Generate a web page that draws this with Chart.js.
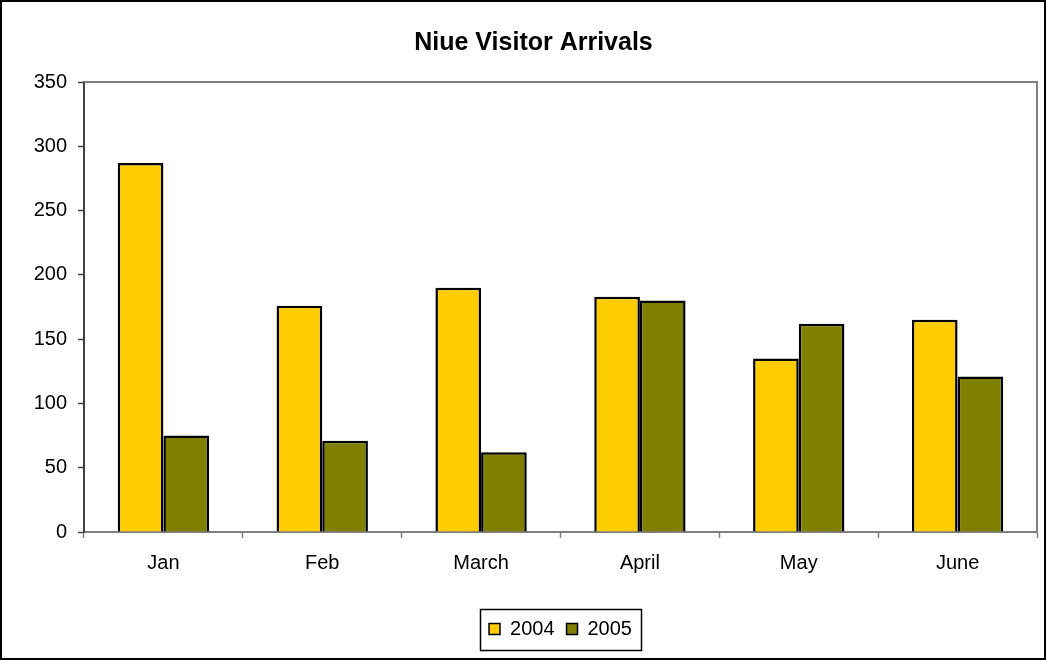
<!DOCTYPE html>
<html>
<head>
<meta charset="utf-8">
<script src="https://cdn.jsdelivr.net/npm/chart.js@4"></script>
<style>
  html, body { margin: 0; padding: 0; background: #fff; }
  #wrap { width: 1047px; height: 660px; }
</style>
</head>
<body>
<div id="wrap"><canvas id="visitors" width="1047" height="660"></canvas></div>
<script>
const months = ['Jan', 'Feb', 'March', 'April', 'May', 'June'];
const arrivals2004 = [287, 176, 190, 183, 135, 165];
const arrivals2005 = [75, 71, 62, 180, 162, 121];
const yTicks = [0, 50, 100, 150, 200, 250, 300, 350];

// outer frame, plot area border and the boxed legend
const frames = {
    id: 'frames',
    beforeDatasetsDraw(chart) {
        const { ctx, chartArea: a } = chart;
        ctx.save();
        ctx.strokeStyle = '#808080';
        ctx.lineWidth = 2;
        ctx.beginPath();
        ctx.moveTo(a.left, a.top);
        ctx.lineTo(a.right, a.top);
        ctx.lineTo(a.right, a.bottom);
        ctx.stroke();
        ctx.restore();
    },
    afterDraw(chart) {
        const ctx = chart.ctx;
        ctx.save();
        ctx.strokeStyle = '#000';
        ctx.lineWidth = 2;
        ctx.strokeRect(1, 1, chart.width - 3, chart.height - 2);

        const boxes = chart.legend.legendHitBoxes;
        if (boxes && boxes.length) {
            let l = Infinity, r = -Infinity, t = Infinity, b = -Infinity;
            boxes.forEach(h => {
                l = Math.min(l, h.left);
                r = Math.max(r, h.left + h.width);
                t = Math.min(t, h.top);
                b = Math.max(b, h.top + h.height);
            });
            ctx.lineWidth = 1.5;
            ctx.strokeRect(Math.round(l - 9) + 0.5, Math.round(t - 10) + 0.5,
                Math.round(r - l + 18), Math.round(b - t + 21));
        }
        ctx.restore();
    }
};

new Chart(document.getElementById('visitors'), {
    type: 'bar',
    data: {
        labels: months,
        datasets: [
            {
                label: '2004',
                data: arrivals2004,
                backgroundColor: '#FFCC00',
                borderColor: '#000',
                borderWidth: 2.5,
                borderSkipped: 'bottom'
            },
            {
                label: '2005',
                data: arrivals2005,
                backgroundColor: '#808000',
                borderColor: '#000',
                borderWidth: 2.5,
                borderSkipped: 'bottom'
            }
        ]
    },
    options: {
        responsive: false,
        animation: false,
        devicePixelRatio: 1,
        categoryPercentage: 0.575,
        barPercentage: 1.0,
        layout: { padding: { left: 30, right: 10, top: 0, bottom: 11 } },
        plugins: {
            title: {
                display: true,
                text: 'Niue Visitor Arrivals',
                color: '#000',
                font: { family: 'Liberation Sans, Arial, sans-serif', size: 25, weight: 'bold' },
                padding: { top: 28, bottom: 24 }
            },
            legend: {
                position: 'bottom',
                fullSize: false,
                labels: {
                    color: '#000',
                    boxWidth: 11,
                    boxHeight: 11,
                    padding: 12,
                    font: { family: 'Liberation Sans, Arial, sans-serif', size: 20 },
                    generateLabels(chart) {
                        return chart.data.datasets.map((ds, i) => ({
                            text: ds.label,
                            fillStyle: ds.backgroundColor,
                            strokeStyle: '#000',
                            lineWidth: 1.5,
                            datasetIndex: i,
                            hidden: false
                        }));
                    }
                }
            },
            tooltip: { enabled: false }
        },
        scales: {
            x: {
                grid: {
                    display: true,
                    offset: true,
                    drawOnChartArea: false,
                    drawTicks: true,
                    tickLength: 6,
                    tickWidth: 1.5,
                    color: '#808080'
                },
                border: { display: true, color: '#808080', width: 2 },
                ticks: {
                    color: '#000',
                    padding: 13,
                    font: { family: 'Liberation Sans, Arial, sans-serif', size: 20 }
                },
                afterFit(scale) { scale.height = 75; }
            },
            y: {
                min: 0,
                max: 350,
                afterBuildTicks(scale) {
                    scale.ticks = yTicks.map(v => ({ value: v }));
                },
                grid: {
                    display: true,
                    drawOnChartArea: false,
                    drawTicks: true,
                    tickLength: 6,
                    tickWidth: 1.5,
                    color: '#404040'
                },
                border: { display: true, color: '#404040', width: 2 },
                ticks: {
                    color: '#000',
                    padding: 11,
                    font: { family: 'Liberation Sans, Arial, sans-serif', size: 20 }
                },
                afterFit(scale) { scale.width = 54; }
            }
        }
    },
    plugins: [frames]
});
</script>
</body>
</html>
